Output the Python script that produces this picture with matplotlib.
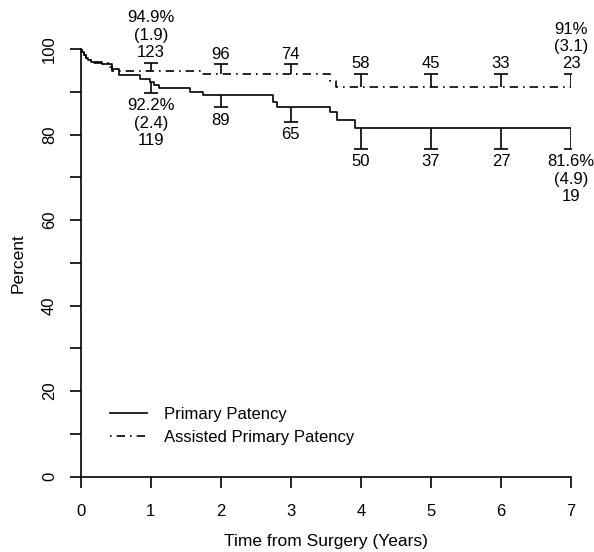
import matplotlib
matplotlib.use("Agg")
import matplotlib.pyplot as plt
import numpy as np

plt.rcParams['font.family'] = ['Liberation Sans', 'DejaVu Sans']

# ---- data ----
years = [1, 2, 3, 4, 5, 6, 7]

primary_t = [0, 0.02, 0.04, 0.07, 0.10, 0.14, 0.30, 0.45, 0.54, 0.85, 0.99, 1.05, 1.12,
             1.56, 1.74, 2.75, 2.80, 3.56, 3.66, 3.92]
primary_v = [100, 99.4, 98.7, 98.0, 97.4, 96.9, 96.4, 95.4, 93.9, 93.1, 92.2, 91.5, 90.8,
             90.0, 89.2, 87.7, 86.5, 85.3, 83.4, 81.6]

assisted_t = [0, 0.02, 0.04, 0.07, 0.10, 0.14, 0.42, 0.45, 1.72, 3.56, 3.65]
assisted_v = [100, 99.4, 98.7, 98.0, 97.4, 96.8, 95.9, 94.9, 94.1, 92.6, 91.0]

primary_se = [2.4, 2.8, 3.5, 4.9, 4.9, 4.9, 4.9]
assisted_se = [1.9, 2.3, 2.3, 3.1, 3.1, 3.1, 3.1]

primary_risk = [119, 89, 65, 50, 37, 27, 19]
assisted_risk = [123, 96, 74, 58, 45, 33, 23]

primary_extra = {1: "92.2%\n(2.4)", 7: "81.6%\n(4.9)"}
assisted_extra = {1: "94.9%\n(1.9)", 7: "91%\n(3.1)"}

x_ticks = [0, 1, 2, 3, 4, 5, 6, 7]
y_ticks = [0, 20, 40, 60, 80, 100]
y_minor = [10, 30, 50, 70, 90]

# ---- figure ----
fig = plt.figure(figsize=(5.94, 5.52), dpi=100)
ax = fig.add_axes([80.7 / 594, 1 - 476.7 / 552, (571 - 80.7) / 594, (476.7 - 49) / 552])

def value_at(ts, vs, x):
    i = np.searchsorted(ts, x, side='right') - 1
    return vs[i]

pt = list(primary_t) + [7]
pv = list(primary_v) + [primary_v[-1]]
at = list(assisted_t) + [7]
av = list(assisted_v) + [assisted_v[-1]]

lw = 1.2
ax.step(pt, pv, where='post', color='black', lw=lw, label='Primary Patency')
ax.step(at, av, where='post', color='black', lw=lw, linestyle=(0, (1, 3, 5, 3)),
        label='Assisted Primary Patency')

fs = 12
for i, yr in enumerate(years):
    # primary (downward bar)
    yv = value_at(primary_t, primary_v, yr)
    lo = yv - primary_se[i]
    ax.plot([yr, yr], [yv, lo], color='black', lw=lw, solid_capstyle='butt')
    ax.plot([yr], [lo], marker='_', ms=10, mew=lw, color='black')
    txt = str(primary_risk[i])
    if yr in primary_extra:
        txt = primary_extra[yr] + "\n" + txt
    ax.annotate(txt, (yr, lo), xytext=(0, -4), textcoords='offset points',
                ha='center', va='top', fontsize=fs, linespacing=1.2, annotation_clip=False)
    # assisted (upward bar)
    yv = value_at(assisted_t, assisted_v, yr)
    hi = yv + assisted_se[i]
    ax.plot([yr, yr], [yv, hi], color='black', lw=lw, solid_capstyle='butt')
    ax.plot([yr], [hi], marker='_', ms=10, mew=lw, color='black')
    txt = str(assisted_risk[i])
    if yr in assisted_extra:
        txt = assisted_extra[yr] + "\n" + txt
    ax.annotate(txt, (yr, hi), xytext=(0, 2), textcoords='offset points',
                ha='center', va='bottom', fontsize=fs, linespacing=1.2, annotation_clip=False)

ax.set_xlim(0, 7)
ax.set_ylim(0, 100)
ax.set_xticks(x_ticks)
ax.set_yticks(y_ticks)
ax.set_yticks(y_minor, minor=True)
ax.tick_params(axis='both', which='both', direction='out', length=8, width=lw,
               labelsize=fs)
ax.tick_params(axis='x', which='major', pad=11.5)
ax.tick_params(axis='y', which='major', pad=9)
ax.tick_params(axis='y', which='minor', labelleft=False)
for lab in ax.get_yticklabels():
    lab.set_rotation(90)
    lab.set_va('center')

for s in ['top', 'right']:
    ax.spines[s].set_visible(False)
for s in ['left', 'bottom']:
    ax.spines[s].set_linewidth(lw)

ax.set_xlabel('Time from Surgery (Years)', fontsize=fs + 0.5, labelpad=11)
ax.set_ylabel('Percent', fontsize=fs + 0.5, labelpad=12)

ax.legend(loc='lower left', bbox_to_anchor=(0.03, 0.04), frameon=False, fontsize=fs,
          handlelength=2.2, handletextpad=1.0, labelspacing=0.45)

fig.savefig('out.png', dpi=100)
